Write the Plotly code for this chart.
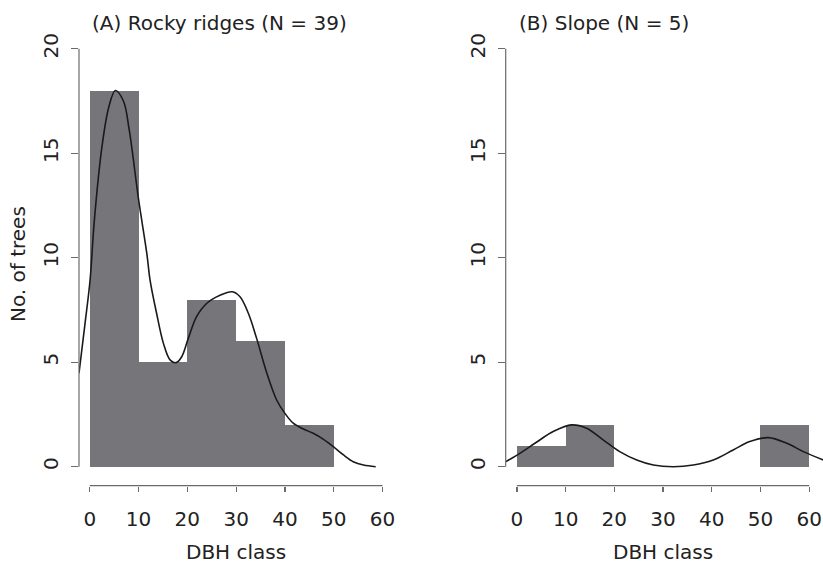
import plotly.graph_objects as go

# ---- data ----
bin_left = [0, 10, 20, 30, 40, 50]
bin_width = 10
counts_A = [18, 5, 8, 6, 2, 0]
counts_B = [1, 2, 0, 0, 0, 2]

dens_A_x = [-2.2, -0.96, 0.06, 0.95, 2.5, 3.9, 5.25, 6.9, 8.1, 10.0, 11.7, 12.36, 13.7, 15.1, 16.5,
            17.7, 18.85, 20.2, 21.9, 24.0, 26.7, 29.2, 30.8, 32.5, 34.2, 36.3, 38.3, 40.0, 41.7,
            43.8, 45.8, 47.9, 49.9, 52.0, 54.0, 56.1, 58.6]
dens_A_y = [4.47, 6.86, 8.9, 11.8, 15.3, 17.2, 18.0, 17.5, 16.1, 12.8, 10.2, 8.93, 7.34, 5.9, 5.1,
            4.98, 5.26, 6.14, 7.18, 7.82, 8.2, 8.37, 8.13, 7.34, 6.14, 4.47, 3.19, 2.55, 2.08,
            1.80, 1.60, 1.31, 0.96, 0.56, 0.24, 0.08, 0.0]

dens_B_x = [-2.26, 0.6, 4.0, 7.45, 11.2, 14.3, 17.7, 21.1, 24.6, 28.0, 32.1, 36.2, 40.3, 44.4,
            47.8, 51.6, 55.4, 58.8, 62.9]
dens_B_y = [0.24, 0.64, 1.17, 1.68, 2.0, 1.84, 1.28, 0.72, 0.32, 0.08, 0.0, 0.08, 0.32, 0.8,
            1.2, 1.39, 1.12, 0.72, 0.32]

titles = ["(A) Rocky ridges (N = 39)", "(B) Slope (N = 5)"]
x_title = "DBH class"
y_title = "No. of trees"
x_ticks = [0, 10, 20, 30, 40, 50, 60]
y_ticks = [0, 5, 10, 15, 20]

# ---- style ----
W, H = 823, 564
FONT = "DejaVu Sans"
TXT = "#222222"
AX = "#6a6a6a"
BAR = "#76767a"
FS = 20

def px(X):
    return X / W

def py(Y):
    return 1 - Y / H

fig = go.Figure()

fig.add_trace(go.Bar(x=bin_left, y=counts_A, width=bin_width, offset=0,
                     marker=dict(color=BAR, line=dict(width=0)), xaxis="x", yaxis="y",
                     showlegend=False))
fig.add_trace(go.Scatter(x=dens_A_x, y=dens_A_y, mode="lines", line=dict(color="#1a1a1a", width=1.6, shape="spline"),
                         xaxis="x", yaxis="y", showlegend=False))
fig.add_trace(go.Bar(x=bin_left, y=counts_B, width=bin_width, offset=0,
                     marker=dict(color=BAR, line=dict(width=0)), xaxis="x2", yaxis="y2",
                     showlegend=False))
fig.add_trace(go.Scatter(x=dens_B_x, y=dens_B_y, mode="lines", line=dict(color="#1a1a1a", width=1.6, shape="spline"),
                         xaxis="x2", yaxis="y2", showlegend=False))

ydom = [py(485.7), py(32)]

def xax(domain, rng, anchor):
    return dict(domain=domain, range=rng, anchor=anchor, showgrid=False, zeroline=False,
                showline=False, tickmode="array", tickvals=x_ticks, ticks="outside",
                ticklen=5, tickcolor=AX, tickwidth=1.2, ticklabelstandoff=10, automargin=False,
                tickfont=dict(family=FONT, size=FS, color=TXT))

def yax(rng, anchor):
    return dict(domain=ydom, range=rng, anchor=anchor, showgrid=False, zeroline=False,
                showline=False, tickmode="array", tickvals=y_ticks, ticks="outside",
                ticklen=7, tickcolor=AX, tickwidth=1.2, tickangle=-90, ticklabelstandoff=5,
                automargin=False, tickfont=dict(family=FONT, size=FS, color=TXT))

fig.update_layout(
    width=W, height=H, margin=dict(l=0, r=0, t=0, b=0, pad=0, autoexpand=False),
    paper_bgcolor="white", plot_bgcolor="white",
    bargap=0, hovermode=False,
    xaxis=xax([px(79), px(387.4)], [-2.2, 61.0], "y"),
    yaxis=yax([-0.91, 20.8], "x"),
    xaxis2=xax([px(505.7), 1.0], [-2.3, 62.83], "y2"),
    yaxis2=yax([-0.91, 20.8], "x2"),
)

shapes = []
for xr, yr in (("x", "y"), ("x2", "y2")):
    # y axis line from 0 to 20
    shapes.append(dict(type="line", xref=f"{xr} domain", yref=yr, x0=0, x1=0,
                       y0=y_ticks[0], y1=y_ticks[-1], line=dict(color=AX, width=1.2)))
    # x axis line from 0 to 60
    shapes.append(dict(type="line", xref=xr, yref=f"{yr} domain", x0=x_ticks[0], x1=x_ticks[-1],
                       y0=0, y1=0, line=dict(color=AX, width=1.2)))
fig.update_layout(shapes=shapes)

ann = []
ann.append(dict(text=titles[0], x=0.0, xref="x", y=py(23.5), yref="paper",
                xanchor="left", yanchor="middle", showarrow=False,
                font=dict(family=FONT, size=FS, color=TXT)))
ann.append(dict(text=titles[1], x=0.0, xref="x2", y=py(23.5), yref="paper",
                xanchor="left", yanchor="middle", showarrow=False,
                font=dict(family=FONT, size=FS, color=TXT)))
for xr in ("x", "x2"):
    ann.append(dict(text=x_title, x=30, xref=xr, y=py(552), yref="paper",
                    xanchor="center", yanchor="middle", showarrow=False,
                    font=dict(family=FONT, size=FS, color=TXT)))
ann.append(dict(text=y_title, x=px(18), xref="paper", y=py(264), yref="paper",
                xanchor="center", yanchor="middle", textangle=-90, showarrow=False,
                font=dict(family=FONT, size=FS, color=TXT)))
fig.update_layout(annotations=ann)

fig.write_html("out.html", config={"displayModeBar": False, "staticPlot": True},
               post_script="document.body.style.margin='0';document.body.style.overflow='hidden';")
